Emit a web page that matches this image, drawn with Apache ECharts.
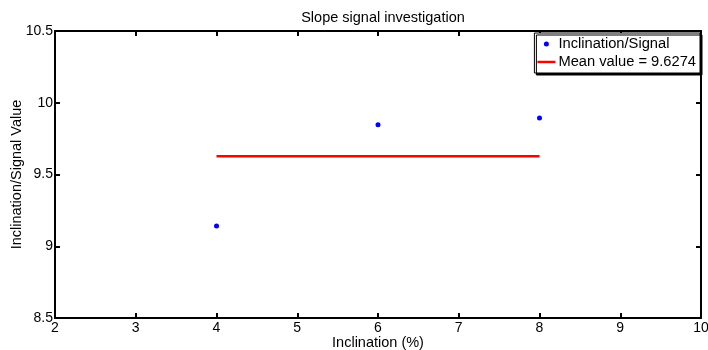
<!DOCTYPE html>
<html>
<head>
<meta charset="utf-8">
<script src="https://cdn.jsdelivr.net/npm/echarts@6/dist/echarts.min.js"></script>
<style>html,body{margin:0;padding:0;background:#fff;}#c{width:708px;height:350px;}</style>
</head>
<body>
<div id="c"></div>
<script>
const inclination = [4, 6, 8];
const signalValues = [9.141, 9.847, 9.893];
const meanValue = 9.6274;
const meanX = [4, 8];
const xTicks = {min: 2, max: 10, interval: 1};
const yTicks = {min: 8.5, max: 10.5, interval: 0.5};

const FONT = "'Liberation Sans', Arial, sans-serif";
const chart = echarts.init(document.getElementById('c'));
const axisLine = {show: true, lineStyle: {color: '#000', width: 2}};
const axisTick = {show: true, inside: true, length: 5, lineStyle: {color: '#000', width: 2}};

chart.setOption({
  animation: false,
  backgroundColor: '#fff',
  title: {
    text: 'Slope signal investigation',
    left: 378, top: 5, textAlign: 'center',
    textStyle: {fontFamily: FONT, fontSize: 14.5, fontWeight: 'normal', color: '#000'}
  },
  grid: {left: 55, right: 7, top: 31, bottom: 32, containLabel: false, outerBoundsMode: 'none'},
  legend: {
    orient: 'vertical',
    right: 8, top: 33,
    padding: [3, 4, 3, 3],
    itemGap: 2,
    itemWidth: 18, itemHeight: 5,
    backgroundColor: '#fff',
    borderColor: '#000', borderWidth: 1,
    shadowColor: '#000', shadowBlur: 0, shadowOffsetX: 2, shadowOffsetY: 2,
    textStyle: {fontFamily: FONT, fontSize: 14.7, color: '#000', padding: [0, 0, 0, -2], lineHeight: 16},
    data: [
      {name: 'Inclination/Signal', icon: 'circle', itemStyle: {color: '#0000ff', opacity: 1}},
      {name: 'Mean value = 9.6274', icon: 'path://M0,0H18V2.5H0Z', itemStyle: {color: '#ff0000'}}
    ]
  },
  xAxis: [{
    type: 'value', min: xTicks.min, max: xTicks.max, interval: xTicks.interval,
    name: 'Inclination (%)', nameLocation: 'middle', nameGap: 17, nameMoveOverlap: false,
    nameTextStyle: {fontFamily: FONT, fontSize: 14.5, color: '#000'},
    axisLine: axisLine, axisTick: axisTick, splitLine: {show: false},
    axisLabel: {fontFamily: FONT, fontSize: 14, color: '#000', margin: 3}
  }, {
    type: 'value', position: 'top', min: xTicks.min, max: xTicks.max, interval: xTicks.interval,
    axisLine: axisLine, axisTick: axisTick, splitLine: {show: false}, axisLabel: {show: false}
  }],
  yAxis: [{
    type: 'value', min: yTicks.min, max: yTicks.max, interval: yTicks.interval,
    name: 'Inclination/Signal Value', nameLocation: 'middle', nameGap: 31, nameMoveOverlap: false,
    nameTextStyle: {fontFamily: FONT, fontSize: 14.5, color: '#000'},
    axisLine: axisLine, axisTick: axisTick, splitLine: {show: false},
    axisLabel: {fontFamily: FONT, fontSize: 14, color: '#000', margin: 2}
  }, {
    type: 'value', position: 'right', min: yTicks.min, max: yTicks.max, interval: yTicks.interval,
    axisLine: axisLine, axisTick: axisTick, splitLine: {show: false}, axisLabel: {show: false}
  }],
  series: [{
    name: 'Inclination/Signal', type: 'scatter',
    data: inclination.map((x, i) => [x, signalValues[i]]),
    symbol: 'circle', symbolSize: 5,
    itemStyle: {color: '#0000ff', opacity: 1}
  }, {
    name: 'Mean value = 9.6274', type: 'line',
    data: meanX.map(x => [x, meanValue]),
    symbol: 'none', lineStyle: {color: '#ff0000', width: 2.5},
    itemStyle: {color: '#ff0000'}
  }]
});
</script>
</body>
</html>
